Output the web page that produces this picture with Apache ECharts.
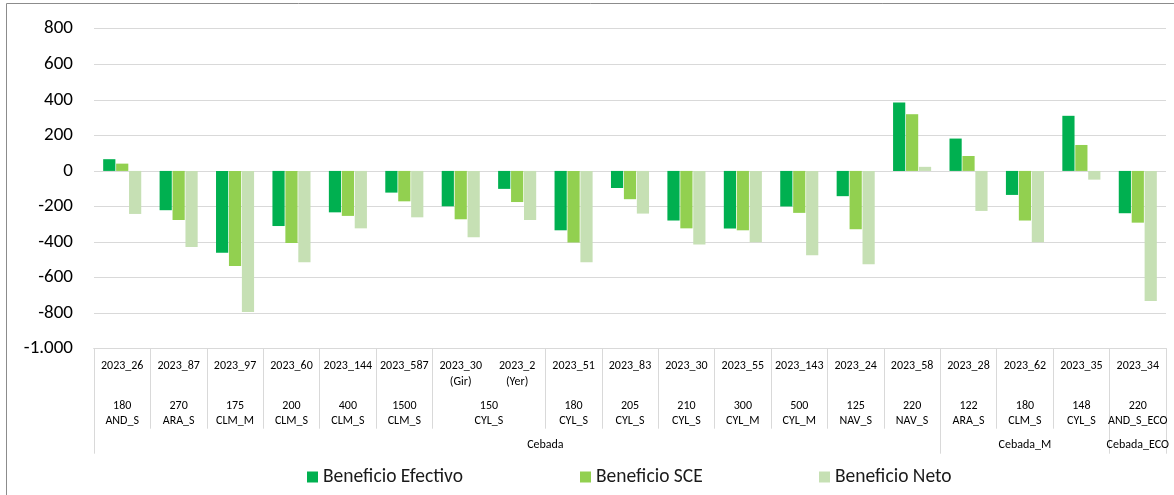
<!DOCTYPE html>
<html>
<head>
<meta charset="utf-8">
<script src="https://cdn.jsdelivr.net/npm/echarts@6/dist/echarts.min.js"></script>
<style>
  html, body { margin: 0; padding: 0; background: #fff; }
  #chart { width: 1174px; height: 495px; }
</style>
</head>
<body>
<div id="chart"></div>
<script>
// ---- Data ----
const codes = ['2023_26','2023_87','2023_97','2023_60','2023_144','2023_587','2023_30\n(Gir)','2023_2\n(Yer)','2023_51','2023_83','2023_30','2023_55','2023_143','2023_24','2023_58','2023_28','2023_62','2023_35','2023_34'];
const level2 = ['180\nAND_S','270\nARA_S','175\nCLM_M','200\nCLM_S','400\nCLM_S','1500\nCLM_S','150\nCYL_S','','180\nCYL_S','205\nCYL_S','210\nCYL_S','300\nCYL_M','500\nCYL_M','125\nNAV_S','220\nNAV_S','122\nARA_S','180\nCLM_S','148\nCYL_S','220\nAND_S_ECO'];
const level3 = ['','','','','','','','Cebada','','','','','','','','','Cebada_M','','Cebada_ECO'];
// groups whose label sits on the boundary to the right of the listed index
const level2Shift = [6];
const level3Shift = [7];
// hidden separators (tick index = left edge of category)
const level2HiddenTicks = [7];
const level3Ticks = [0, 15, 18];

const seriesNames = ['Beneficio Efectivo','Beneficio SCE','Beneficio Neto'];
const efectivo = [66,-221,-460,-310,-233,-122,-199,-101,-334,-96,-279,-324,-200,-142,385,182,-135,310,-238];
const sce      = [41,-276,-535,-405,-253,-171,-272,-175,-403,-159,-323,-334,-236,-328,319,84,-279,146,-291];
const neto     = [-242,-428,-794,-514,-323,-261,-373,-276,-514,-240,-414,-401,-475,-525,23,-225,-401,-49,-732];
const yTicks = { min: -1000, max: 800, interval: 200 };

const colors = ['#00B050','#92D050','#C6E0B4'];
const FONT = 'Calibri, Carlito, "Liberation Sans", Arial, sans-serif';
const GRID = '#D9D9D9';

const chart = echarts.init(document.getElementById('chart'), null, { renderer: 'canvas' });
const bandW = (1174 - 94 - 8) / codes.length;

function shifted(text) {
  return text.split('\n').map(t => '{s|' + t + '}').join('\n');
}

const baseX = {
  type: 'category',
  data: codes,
  position: 'bottom',
  boundaryGap: true,
  axisLine: { show: true, onZero: false, lineStyle: { color: GRID } },
  splitLine: { show: false }
};

const option = {
  animation: false,
  backgroundColor: '#fff',
  textStyle: { fontFamily: FONT },
  grid: { left: 94, right: 8, top: 28.7, bottom: 146.3, containLabel: false },
  legend: seriesNames.map((n, i) => ({
    data: [n],
    left: [307, 580, 819][i],
    top: 466,
    padding: 0,
    icon: 'rect',
    itemWidth: 11,
    itemHeight: 11,
    itemGap: 6,
    textStyle: { fontFamily: FONT, fontSize: 19.5, lineHeight: 22, color: '#1a1a1a' }
  })),
  xAxis: [
    Object.assign({}, baseX, {
      axisTick: { show: true, length: 80, lineStyle: { color: GRID },
        interval: (i) => level2HiddenTicks.indexOf(i) < 0 },
      axisLabel: { interval: 0, margin: 9, fontSize: 12, lineHeight: 16, color: '#000', fontFamily: FONT }
    }),
    Object.assign({}, baseX, {
      axisTick: { show: false },
      axisLabel: { interval: 0, margin: 50, fontSize: 12, lineHeight: 15, color: '#000', fontFamily: FONT,
        formatter: (v, i) => level2Shift.indexOf(i) >= 0 ? shifted(level2[i]) : level2[i],
        rich: { s: { fontSize: 12, lineHeight: 15, color: '#000', fontFamily: FONT, padding: [0, 0, 0, bandW] } } }
    }),
    Object.assign({}, baseX, {
      axisTick: { show: true, length: 105, lineStyle: { color: GRID },
        interval: (i) => level3Ticks.indexOf(i) >= 0 },
      axisLabel: { interval: 0, margin: 89, fontSize: 12, lineHeight: 15, color: '#000', fontFamily: FONT,
        formatter: (v, i) => level3Shift.indexOf(i) >= 0 ? shifted(level3[i]) : level3[i],
        rich: { s: { fontSize: 12, lineHeight: 15, color: '#000', fontFamily: FONT, padding: [0, 0, 0, bandW] } } }
    })
  ],
  yAxis: {
    type: 'value',
    min: yTicks.min, max: yTicks.max, interval: yTicks.interval,
    axisLine: { show: false },
    axisTick: { show: false },
    splitLine: { show: true, lineStyle: { color: GRID, width: 1 } },
    axisLabel: {
      margin: 21, fontSize: 19, color: '#000', fontFamily: FONT,
      formatter: v => (v < 0 ? '-' : '') + String(Math.abs(v)).replace(/\B(?=(\d{3})+(?!\d))/g, '.')
    }
  },
  series: [efectivo, sce, neto].map((d, i) => ({
    name: seriesNames[i],
    type: 'bar',
    xAxisIndex: 0,
    data: d,
    barWidth: 12.2,
    barGap: '6%',
    itemStyle: { color: colors[i] }
  })),
  graphic: [{
    type: 'rect',
    silent: true,
    z: -1,
    shape: { x: 6.5, y: 3.5, width: 1300, height: 700 },
    style: { fill: 'none', stroke: '#8c8c8c', lineWidth: 1 }
  }]
};
chart.setOption(option);
</script>
</body>
</html>
